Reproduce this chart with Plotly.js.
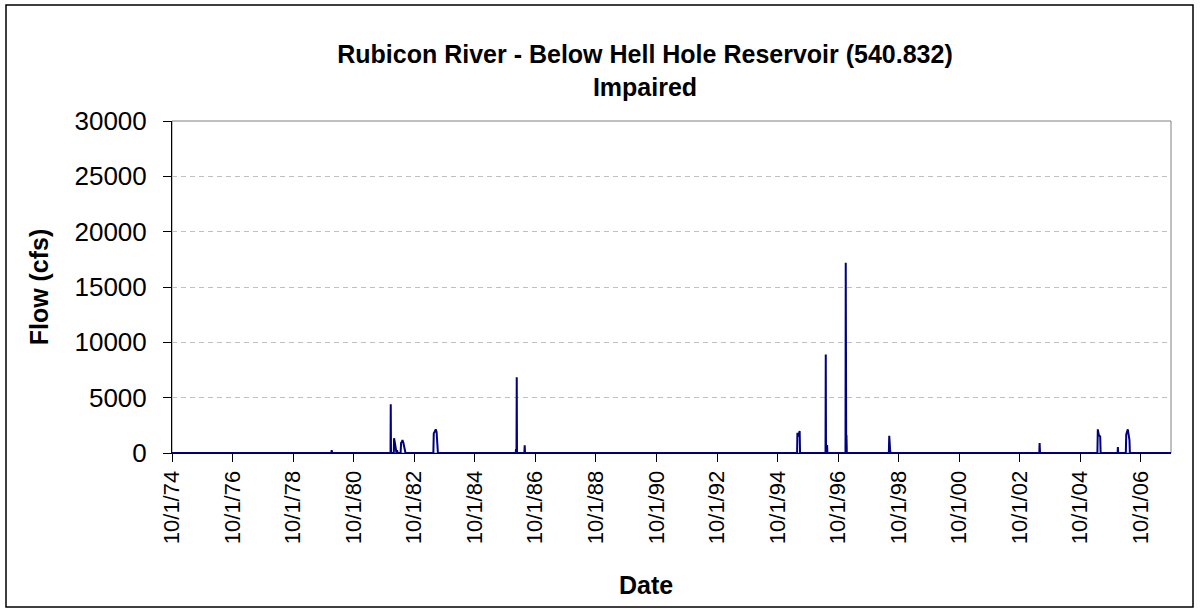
<!DOCTYPE html>
<html>
<head>
<meta charset="utf-8">
<script src="https://cdn.plot.ly/plotly-3.0.1.min.js"></script>
<style>
html,body{margin:0;padding:0;background:#fff;}
#chart{width:1200px;height:609px;}
</style>
</head>
<body>
<div id="chart"></div>
<script>
// Daily flow (cfs), sparse readings; baseline ~0
var dates = [
  "1974-10-01","1980-01-05","1980-01-10","1980-01-15",
  "1981-12-19","1981-12-22","1981-12-25","1982-01-28","1982-01-31","1982-02-10","1982-02-20","1982-03-01","1982-03-08","1982-03-14",
  "1982-04-20","1982-04-26","1982-05-06","1982-05-12","1982-05-24","1982-06-01","1982-06-13","1982-06-18",
  "1983-05-20","1983-05-25","1983-06-05","1983-06-18","1983-06-28","1983-07-05","1983-07-10","1983-07-14",
  "1986-02-07","1986-02-10","1986-02-16","1986-02-19","1986-02-22","1986-05-22","1986-05-26","1986-05-30",
  "1995-05-25","1995-05-29","1995-06-10","1995-06-25","1995-06-30",
  "1996-05-02","1996-05-05","1996-05-08","1996-05-18","1996-05-21","1996-05-25",
  "1996-12-29","1997-01-01","1997-01-04","1997-01-07","1997-01-10","1997-01-14",
  "1998-06-05","1998-06-10","1998-06-20","1998-06-25",
  "2003-05-25","2003-05-29","2003-06-03",
  "2005-04-25","2005-04-30","2005-05-12","2005-05-29","2005-06-03",
  "2005-12-25","2005-12-28","2006-01-01",
  "2006-04-03","2006-04-08","2006-04-27","2006-05-17","2006-05-22",
  "2007-09-30"
];
var flow = [
  0,0,250,0,
  0,4400,0,0,1330,900,300,0,250,0,
  0,930,1000,1170,900,570,300,0,
  0,1780,1920,2140,1900,1170,800,0,
  0,360,0,6850,0,0,700,0,
  0,1830,1500,1990,0,
  0,8900,0,0,720,0,
  0,17200,0,0,1630,0,
  0,1550,300,0,
  0,900,0,
  0,2140,1630,1470,0,
  0,540,0,
  0,1690,2140,1170,0,
  0
];
var tickDates = ["1974-10-01","1976-10-01","1978-10-01","1980-10-01","1982-10-01","1984-10-01","1986-10-01","1988-10-01","1990-10-01","1992-10-01","1994-10-01","1996-10-01","1998-10-01","2000-10-01","2002-10-01","2004-10-01","2006-10-01"];
var tickLabels = ["10/1/74","10/1/76","10/1/78","10/1/80","10/1/82","10/1/84","10/1/86","10/1/88","10/1/90","10/1/92","10/1/94","10/1/96","10/1/98","10/1/00","10/1/02","10/1/04","10/1/06"];
var yTicks = [0,5000,10000,15000,20000,25000,30000];

var FONT = "Liberation Sans, Arial, Helvetica, sans-serif";

var trace = {
  type: "scatter",
  mode: "lines",
  x: dates,
  y: flow,
  line: {color: "#000080", width: 2},
  hoverinfo: "x+y"
};

var layout = {
  width: 1200, height: 609,
  paper_bgcolor: "#ffffff",
  plot_bgcolor: "#ffffff",
  margin: {l: 172, r: 29, t: 121, b: 156, pad: 0},
  showlegend: false,
  font: {family: FONT, color: "#000000"},
  title: {
    text: "<b>Rubicon River - Below Hell Hole Reservoir (540.832)</b><br><b>Impaired</b>",
    font: {family: FONT, size: 25, color: "#000000"},
    x: 645/1200, xref: "container", xanchor: "center",
    y: 1 - 63/609, yref: "container", yanchor: "top"
  },
  xaxis: {
    type: "date",
    range: ["1974-10-01", "2007-09-30"],
    tickmode: "array",
    tickvals: tickDates,
    ticktext: tickLabels,
    tickangle: -90,
    ticks: "outside", ticklen: 8, tickwidth: 1, tickcolor: "#000000",
    tickfont: {family: FONT, size: 22, color: "#000000"},
    showline: true, linecolor: "#000000", linewidth: 1,
    showgrid: false, zeroline: false,
    layer: "below traces",
    fixedrange: true
  },
  yaxis: {
    range: [0, 30000],
    tickmode: "array",
    tickvals: yTicks,
    ticktext: yTicks.map(String),
    ticks: "outside", ticklen: 8, tickwidth: 1, tickcolor: "#000000",
    ticklabelstandoff: 11,
    tickfont: {family: FONT, size: 26, color: "#000000"},
    showline: true, linecolor: "#000000", linewidth: 1,
    showgrid: true, gridcolor: "#c0c0c0", gridwidth: 1, griddash: "5px,4px",
    zeroline: false,
    title: {text: "<b>Flow (cfs)</b>", font: {family: FONT, size: 25, color: "#000000"}, standoff: 18},
    layer: "below traces",
    fixedrange: true
  },
  annotations: [{
    text: "<b>Date</b>",
    xref: "paper", yref: "paper",
    x: (646 - 172) / 999, y: (453 - 585) / 332,
    xanchor: "center", yanchor: "middle",
    showarrow: false,
    font: {family: FONT, size: 25, color: "#000000"}
  }],
  shapes: [
    {type: "rect", xref: "paper", yref: "paper", x0: 0, x1: 1, y0: 0, y1: 1,
     line: {color: "#808080", width: 1}, fillcolor: "rgba(0,0,0,0)", layer: "below"},
    {type: "rect", xref: "paper", yref: "paper",
     x0: (6 - 172) / 999, x1: (1193 - 172) / 999, y0: (453 - 607) / 332, y1: (453 - 5) / 332,
     line: {color: "#000000", width: 1.5}, fillcolor: "rgba(0,0,0,0)", layer: "below"}
  ]
};

Plotly.newPlot("chart", [trace], layout, {displayModeBar: false, staticPlot: true});
</script>
</body>
</html>
